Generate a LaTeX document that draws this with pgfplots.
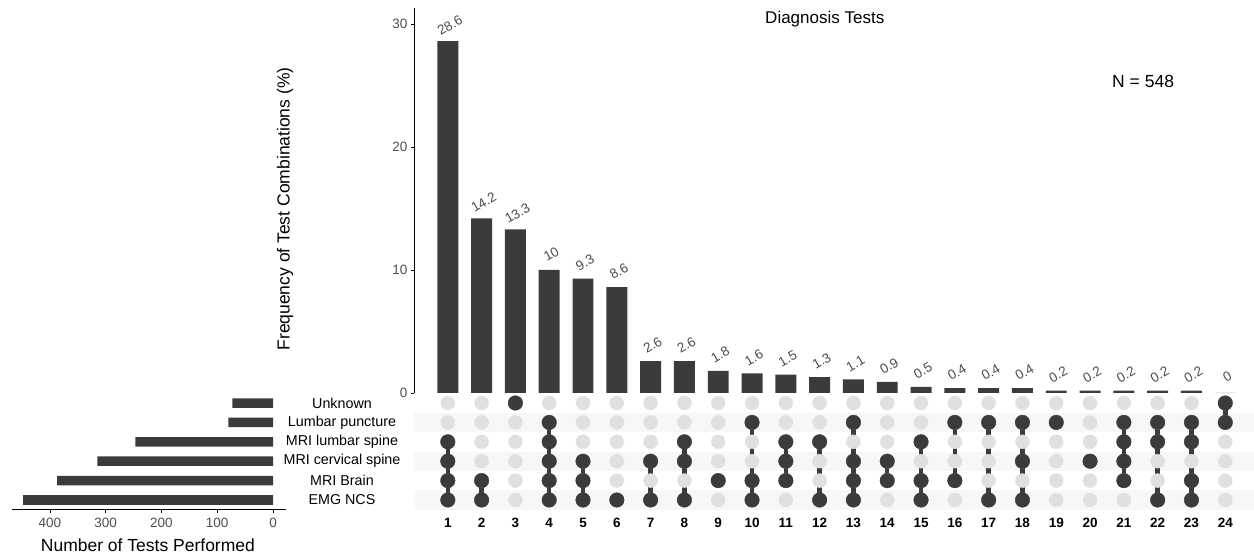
\documentclass[border=0pt]{standalone}
\usepackage{fontspec}
\setmainfont{Liberation Sans}
\usepackage{pgfplots}
\pgfplotsset{compat=1.18}
\usepackage{pgfplotstable}

\definecolor{bardark}{HTML}{3B3B3B}
\definecolor{ticktxt}{HTML}{4D4D4D}
\definecolor{dotoff}{HTML}{E0E0E0}
\definecolor{stripe}{HTML}{F7F7F7}

% frequency of each test combination (%)
\pgfplotstableread{
x y lab
1 28.6 28.6
2 14.2 14.2
3 13.3 13.3
4 10.0 10
5 9.3 9.3
6 8.6 8.6
7 2.6 2.6
8 2.6 2.6
9 1.8 1.8
10 1.6 1.6
11 1.5 1.5
12 1.3 1.3
13 1.1 1.1
14 0.9 0.9
15 0.5 0.5
16 0.4 0.4
17 0.4 0.4
18 0.4 0.4
19 0.2 0.2
20 0.2 0.2
21 0.2 0.2
22 0.2 0.2
23 0.2 0.2
24 0 0
}\freqtable

% number of tests performed (row 1 = EMG NCS ... row 6 = Unknown)
\pgfplotstableread{
n row
448 1
387 2
315 3
247 4
80 5
73 6
}\settable

\newcommand{\fsz}[1]{\fontsize{#1}{#1}\selectfont}

\begin{document}
\begin{tikzpicture}
\useasboundingbox (0pt,0pt) rectangle (1254pt,555pt);

% ---- intersection size bars
\begin{axis}[
  at={(414pt,162pt)}, anchor=south west,
  scale only axis, width=840pt, height=385pt,
  xmin=0, xmax=24.85, ymin=0, ymax=31.3,
  hide x axis, axis y line*=left,
  ytick={0,10,20,30},
  tick align=outside, major tick length=3pt,
  y axis line style={line width=0.8pt},
  tick style={line width=0.8pt,color=black},
  /pgf/number format/assume math mode=true,
  yticklabel style={font=\fsz{13.5}, text=ticktxt},
  ylabel={Frequency of Test Combinations (\%)},
  ylabel style={font=\fsz{17.5}, at={(axis description cs:-0.1536,0.478)}, anchor=center},
  title={Diagnosis Tests},
  title style={font=\fsz{17}, at={(axis description cs:0.489,0.956)}, anchor=center},
  clip=false,
]
\addplot[ybar, bar width=0.62, fill=bardark, draw=none,
  point meta=explicit symbolic, nodes near coords,
  nodes near coords style={font=\fsz{13.5}, text=ticktxt, anchor=center,
    xshift=2pt, yshift=16pt, rotate=30}]
  table[x=x, y=y, meta=lab] \freqtable;
\node[font=\fsz{17.5}] at (axis description cs:0.868,0.810) {N = 548};
\end{axis}

% ---- matrix of test combinations
\begin{axis}[
  at={(414pt,45.3pt)}, anchor=south west,
  scale only axis, width=840pt, height=116.4pt,
  xmin=0, xmax=24.85, ymin=0.5, ymax=6.5,
  axis line style={draw=none},
  major tick length=0pt,
  xtick={1,...,24},
  /pgf/number format/assume math mode=true,
  xticklabel style={font=\bfseries\fsz{13.5}, yshift=-5pt},
  ytick={1,2,3,4,5,6},
  yticklabels={EMG NCS, MRI Brain, MRI cervical spine, MRI lumbar spine, Lumbar puncture, Unknown},
  yticklabel style={font=\fsz{14.3}, anchor=center, xshift=-72pt},
  clip=false,
]
\fill[stripe] (axis cs:0,0.5) rectangle (axis cs:24.85,1.5);
\fill[stripe] (axis cs:0,2.5) rectangle (axis cs:24.85,3.5);
\fill[stripe] (axis cs:0,4.5) rectangle (axis cs:24.85,5.5);
% inactive dots
\addplot[only marks, mark=*, mark size=7pt, color=dotoff] coordinates {
(1,1)(2,1)(3,1)(4,1)(5,1)(6,1)(7,1)(8,1)(9,1)(10,1)(11,1)(12,1)
(13,1)(14,1)(15,1)(16,1)(17,1)(18,1)(19,1)(20,1)(21,1)(22,1)(23,1)(24,1)
(1,2)(2,2)(3,2)(4,2)(5,2)(6,2)(7,2)(8,2)(9,2)(10,2)(11,2)(12,2)
(13,2)(14,2)(15,2)(16,2)(17,2)(18,2)(19,2)(20,2)(21,2)(22,2)(23,2)(24,2)
(1,3)(2,3)(3,3)(4,3)(5,3)(6,3)(7,3)(8,3)(9,3)(10,3)(11,3)(12,3)
(13,3)(14,3)(15,3)(16,3)(17,3)(18,3)(19,3)(20,3)(21,3)(22,3)(23,3)(24,3)
(1,4)(2,4)(3,4)(4,4)(5,4)(6,4)(7,4)(8,4)(9,4)(10,4)(11,4)(12,4)
(13,4)(14,4)(15,4)(16,4)(17,4)(18,4)(19,4)(20,4)(21,4)(22,4)(23,4)(24,4)
(1,5)(2,5)(3,5)(4,5)(5,5)(6,5)(7,5)(8,5)(9,5)(10,5)(11,5)(12,5)
(13,5)(14,5)(15,5)(16,5)(17,5)(18,5)(19,5)(20,5)(21,5)(22,5)(23,5)(24,5)
(1,6)(2,6)(3,6)(4,6)(5,6)(6,6)(7,6)(8,6)(9,6)(10,6)(11,6)(12,6)
(13,6)(14,6)(15,6)(16,6)(17,6)(18,6)(19,6)(20,6)(21,6)(22,6)(23,6)(24,6)
};
% connecting lines
\addplot[no marks, color=bardark, line width=4.5pt, unbounded coords=jump] coordinates {
(1,1)(1,4)(1,nan)
(2,1)(2,2)(2,nan)
(4,1)(4,5)(4,nan)
(5,1)(5,3)(5,nan)
(7,1)(7,3)(7,nan)
(8,1)(8,4)(8,nan)
(10,1)(10,5)(10,nan)
(11,2)(11,4)(11,nan)
(12,1)(12,4)(12,nan)
(13,1)(13,5)(13,nan)
(14,2)(14,3)(14,nan)
(15,1)(15,4)(15,nan)
(16,2)(16,5)(16,nan)
(17,1)(17,5)(17,nan)
(18,1)(18,5)(18,nan)
(21,2)(21,5)(21,nan)
(22,1)(22,5)(22,nan)
(23,1)(23,5)(23,nan)
(24,5)(24,6)
};
% active dots
\addplot[only marks, mark=*, mark size=7.3pt, color=bardark] coordinates {
(1,1)(1,2)(1,3)(1,4)
(2,1)(2,2)
(3,6)
(4,1)(4,2)(4,3)(4,4)(4,5)
(5,1)(5,2)(5,3)
(6,1)
(7,1)(7,3)
(8,1)(8,3)(8,4)
(9,2)
(10,1)(10,2)(10,5)
(11,2)(11,3)(11,4)
(12,1)(12,4)
(13,1)(13,2)(13,3)(13,5)
(14,2)(14,3)
(15,1)(15,2)(15,4)
(16,2)(16,5)
(17,1)(17,5)
(18,1)(18,3)(18,5)
(19,5)
(20,3)
(21,2)(21,3)(21,4)(21,5)
(22,1)(22,4)(22,5)
(23,1)(23,2)(23,4)(23,5)
(24,5)(24,6)
};
\end{axis}

% ---- set sizes
\begin{axis}[
  at={(12pt,45.3pt)}, anchor=south west,
  scale only axis, width=274pt, height=116.4pt,
  xmin=-23.3, xmax=468, ymin=0.5, ymax=6.5,
  x dir=reverse,
  axis x line*=bottom, hide y axis,
  x axis line style={line width=0.8pt},
  xtick={0,100,200,300,400},
  tick align=outside, major tick length=3pt,
  tick style={line width=0.8pt,color=black},
  /pgf/number format/assume math mode=true,
  xticklabel style={font=\fsz{13.5}, text=ticktxt, yshift=-2pt},
  xlabel={Number of Tests Performed},
  xlabel style={font=\fsz{17.5}, at={(axis description cs:0.496,-0.303)}, anchor=center},
  clip=false,
]
\addplot[xbar, bar width=0.49, fill=bardark, draw=none]
  table[x=n, y=row] \settable;
\end{axis}
\end{tikzpicture}
\end{document}
